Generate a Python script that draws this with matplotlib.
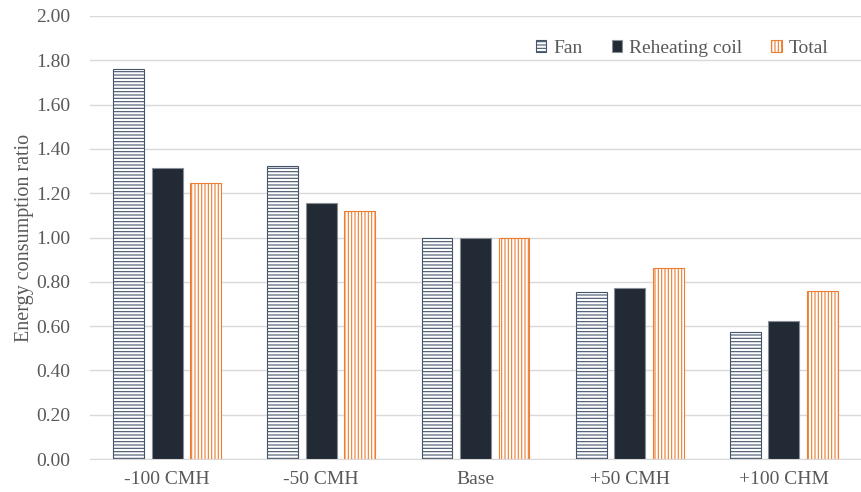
import matplotlib
matplotlib.use("Agg")
import matplotlib.pyplot as plt
import numpy as np

categories = ["-100 CMH", "-50 CMH", "Base", "+50 CMH", "+100 CHM"]
fan = [1.76, 1.325, 1.00, 0.755, 0.573]
reheating = [1.315, 1.157, 0.997, 0.772, 0.622]
total = [1.245, 1.12, 1.00, 0.864, 0.757]
yticks = [0.0, 0.2, 0.4, 0.6, 0.8, 1.0, 1.2, 1.4, 1.6, 1.8, 2.0]

plt.rcParams['font.family'] = ['Liberation Serif', 'DejaVu Serif']
plt.rcParams['hatch.linewidth'] = 0.8

fig = plt.figure(figsize=(8.61, 4.92), dpi=100)
ax = fig.add_axes([90/861, 1-459/492, 771/861, (459-16)/492])

x = np.arange(len(categories))
w = 0.2
fan_c = '#44546A'
re_c = '#222A35'
tot_c = '#ED7D31'

ax.bar(x - 0.25, fan, w, facecolor='white', edgecolor=fan_c, hatch='-----', linewidth=0.8, label='Fan', zorder=3)
ax.bar(x, reheating, w, facecolor=re_c, edgecolor='#8A8F96', linewidth=0.8, label='Reheating coil', zorder=3)
ax.bar(x + 0.25, total, w, facecolor='white', edgecolor=tot_c, hatch='|||||', linewidth=0.8, label='Total', zorder=3)

ax.set_xlim(-0.5, len(categories) - 0.5)
ax.set_ylim(0, 2.0)
ax.set_yticks(yticks)
ax.set_yticklabels([f"{v:.2f}" for v in yticks])
ax.set_xticks(x)
ax.set_xticklabels(categories)
ax.tick_params(axis='both', length=0, labelsize=14, colors='#595959')
ax.tick_params(axis='y', pad=14)
ax.tick_params(axis='x', pad=9)
ax.yaxis.grid(True, color='#D9D9D9', linewidth=1)
ax.set_axisbelow(True)
for s in ['top', 'right', 'left']:
    ax.spines[s].set_visible(False)
ax.spines['bottom'].set_color('#D9D9D9')
ax.set_ylabel('Energy consumption ratio', fontsize=14.5, color='#595959', labelpad=2)

leg = ax.legend(loc='upper right', bbox_to_anchor=(0.958, 0.946), ncol=3, frameon=False,
                fontsize=14, handlelength=0.55, handleheight=0.55, columnspacing=1.5,
                handletextpad=0.35, borderpad=0, borderaxespad=0)
for t in leg.get_texts():
    t.set_color('#595959')

fig.savefig('out.png', dpi=100)
